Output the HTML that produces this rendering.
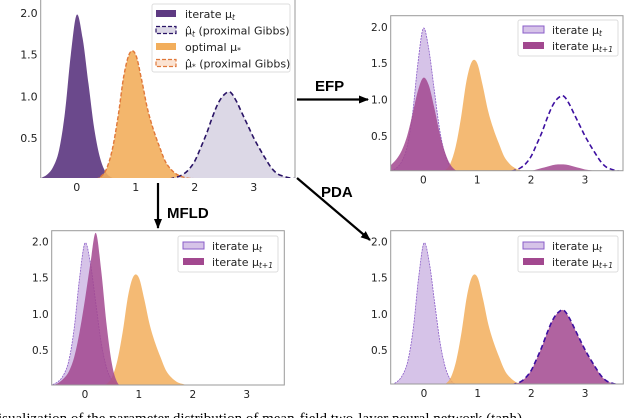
<!DOCTYPE html>
<html><head><meta charset="utf-8"><style>
body{margin:0;background:#fff;width:640px;height:418px;overflow:hidden}
svg{display:block;font-family:"DejaVu Sans","Liberation Sans",sans-serif}
</style></head><body>
<svg id="fig" width="640" height="418" viewBox="0 0 640 418" xmlns="http://www.w3.org/2000/svg">
<defs><marker id="ah" markerWidth="10" markerHeight="8" refX="9" refY="4" orient="auto" markerUnits="userSpaceOnUse"><path d="M0,0 L10,4 L0,8 Z" fill="#000"/></marker></defs>
<g id="arrows">
<line x1="297" y1="99.5" x2="368" y2="99.5" stroke="#000" stroke-width="2.2" marker-end="url(#ah)"/>
<text x="315" y="91" font-family="Liberation Sans, sans-serif" font-weight="bold" font-size="15">EFP</text>
<line x1="158" y1="183" x2="158" y2="228" stroke="#000" stroke-width="2.2" marker-end="url(#ah)"/>
<text x="167" y="218" font-family="Liberation Sans, sans-serif" font-weight="bold" font-size="15">MFLD</text>
<line x1="297" y1="178" x2="370" y2="240" stroke="#000" stroke-width="2.2" marker-end="url(#ah)"/>
<text x="321" y="197" font-family="Liberation Sans, sans-serif" font-weight="bold" font-size="15">PDA</text>
</g>
<text x="-2" y="423" font-family="Liberation Serif, serif" font-size="15">isualization of the parameter distribution of mean-field two-layer neural network (tanh)</text>
</svg>
<script>
const xs=[-0.6,-0.5,-0.4,-0.3,-0.2,-0.1,0,0.1,0.2,0.3,0.4,0.5,0.6,0.7,0.8,0.9,1.0,1.1,1.2,1.3,1.4,1.5,1.6,1.7,1.8,1.9,2.0,2.1,2.2,2.3,2.4,2.5,2.6,2.7,2.8,2.9,3.0,3.1,3.2,3.3,3.4,3.5,3.6,3.7];
const muT=[0.02,0.06,0.15,0.35,0.8,1.5,1.98,1.7,1.15,0.6,0.25,0.08,0.02,0,0,0,0,0,0,0,0,0,0,0,0,0,0,0,0,0,0,0,0,0,0,0,0,0,0,0,0,0,0,0];
const muStar=[0,0,0,0,0,0,0,0,0,0,0.03,0.12,0.35,0.75,1.25,1.52,1.5,1.2,0.85,0.6,0.4,0.22,0.12,0.06,0.03,0.015,0.01,0.005,0,0,0,0,0,0,0,0,0,0,0,0,0,0,0,0];
const hatMuT=[0,0,0,0,0,0,0,0,0,0,0,0,0,0,0,0,0,0,0,0,0,0,0.01,0.03,0.06,0.12,0.22,0.38,0.55,0.75,0.92,1.02,1.05,0.95,0.8,0.65,0.5,0.37,0.25,0.14,0.07,0.04,0.02,0.01];
const efpNext=[0.1,0.18,0.3,0.5,0.8,1.12,1.3,1.2,0.9,0.55,0.28,0.11,0.03,0,0,0,0,0,0,0,0,0,0,0,0,0.01,0.02,0.04,0.06,0.08,0.1,0.11,0.11,0.1,0.08,0.06,0.04,0.03,0.02,0.01,0.01,0,0,0];
const mfldNext=[0.01,0.04,0.1,0.2,0.4,0.75,1.2,1.7,2.12,1.6,0.85,0.3,0.05,0,0,0,0,0,0,0,0,0,0,0,0,0,0,0,0,0,0,0,0,0,0,0,0,0,0,0,0,0,0,0];
const xTicks=[0,1,2,3];
const yTicks=[0.5,1.0,1.5,2.0];
const yTickLabels=["0.5","1.0","1.5","2.0"];

const NS="http://www.w3.org/2000/svg";
const svg=document.getElementById('fig');
function mk(tag,attrs,parent){const e=document.createElementNS(NS,tag);for(const k in attrs)e.setAttribute(k,attrs[k]);(parent||svg).appendChild(e);return e;}
function smooth(pts){
 let d='';
 for(let i=0;i<pts.length-1;i++){
  const p0=pts[Math.max(0,i-1)],p1=pts[i],p2=pts[i+1],p3=pts[Math.min(pts.length-1,i+2)];
  const c1x=p1[0]+(p2[0]-p0[0])/6,c1y=p1[1]+(p2[1]-p0[1])/6;
  const c2x=p2[0]-(p3[0]-p1[0])/6,c2y=p2[1]-(p3[1]-p1[1])/6;
  d+=' C'+c1x.toFixed(1)+','+c1y.toFixed(1)+' '+c2x.toFixed(1)+','+c2y.toFixed(1)+' '+p2[0].toFixed(1)+','+p2[1].toFixed(1);
 }
 return d;
}

const panels=[
 {name:'panel-current',L:40.7,R:295,T:-2,B:178,x0:76.7,ux:59,y0:179.5,uy:83.2,fs:11,frame:'lr',
  series:[{d:muT,fill:'#5e3a82',op:0.92},{d:muStar,fill:'#f2ae5c',op:0.9},{d:hatMuT,fill:'#dcd8e6',op:1,stroke:'#2a1466',dash:'5,3',sw:1.6},{d:muStar,fill:'none',stroke:'#e0783a',dash:'4,2',sw:1.4}],
  legend:{x:152,y:4,w:138,h:68}},
 {name:'panel-efp',L:390.7,R:623,T:15.7,B:170.7,x0:423.3,ux:53.9,y0:172.4,uy:72.8,fs:10.5,frame:'all',
  series:[{d:muT,fill:'#d6c3e8',op:1,stroke:'#8a5cc8',dash:'2,1',sw:0.8},{d:muStar,fill:'#f2ae5c',op:0.85},{d:efpNext,fill:'#a2488f',op:0.85},{d:hatMuT,fill:'none',stroke:'#3d0fa0',dash:'5,3',sw:1.6}],
  legend2:{x:518,y:20}},
 {name:'panel-mfld',L:51.7,R:284.3,T:230.7,B:385,x0:85,ux:53.9,y0:386,uy:72.2,fs:10.5,frame:'all',
  series:[{d:muT,fill:'#d6c3e8',op:1,stroke:'#8a5cc8',dash:'2,1',sw:0.8},{d:muStar,fill:'#f2ae5c',op:0.85},{d:mfldNext,fill:'#a2488f',op:0.85}],
  legend2:{x:178,y:236}},
 {name:'panel-pda',L:390.7,R:623.3,T:230.7,B:384,x0:424,ux:53.7,y0:386,uy:72.2,fs:10.5,frame:'all',
  series:[{d:muT,fill:'#d6c3e8',op:1,stroke:'#8a5cc8',dash:'2,1',sw:0.8},{d:muStar,fill:'#f2ae5c',op:0.85},{d:hatMuT,fill:'#a2488f',op:0.85},{d:hatMuT,fill:'none',stroke:'#3d0fa0',dash:'5,3',sw:1.6}],
  legend2:{x:518,y:236}}
];
let clipId=0;
panels.forEach(p=>{
 const g=mk('g',{});
 
 
 const sx=v=>p.x0+v*p.ux, sy=v=>p.y0-v*p.uy;
 const cid='c'+(clipId++);
 const cp=mk('clipPath',{id:cid},g);mk('rect',{x:p.L,y:p.T,width:p.R-p.L,height:p.B-p.T},cp);
 const sg=mk('g',{'clip-path':'url(#'+cid+')'},g);
 p.series.forEach((s,i)=>{
  const pts=xs.map((x,j)=>[sx(x),sy(s.d[j])]);
  const line='M'+pts[0][0].toFixed(1)+','+pts[0][1].toFixed(1)+smooth(pts);
  if(s.fill!=='none'){
   const d='M'+sx(xs[0])+','+sy(0)+' L'+pts[0][0].toFixed(1)+','+pts[0][1].toFixed(1)+smooth(pts)+' L'+sx(xs[xs.length-1])+','+sy(0)+' Z';
   const a=mk('path',{d:d,fill:s.fill,'fill-opacity':s.op},sg);
   
   }
  if(s.stroke){const l=mk('path',{d:line,fill:'none',stroke:s.stroke,'stroke-width':s.sw,'stroke-dasharray':s.dash},sg);
   
   }
 });
 const st='#9a9a9a';
 if(p.frame==='all'){const f=mk('rect',{x:p.L,y:p.T,width:p.R-p.L,height:p.B-p.T,fill:'none',stroke:st,'stroke-width':1},g);
  
  }
 else{mk('line',{x1:p.L,y1:p.T,x2:p.L,y2:p.B,stroke:st},g);mk('line',{x1:p.R,y1:p.T,x2:p.R,y2:p.B,stroke:st},g);}
 xTicks.forEach(v=>{const t=mk('text',{x:sx(v),y:p.B+13,'text-anchor':'middle','font-size':p.fs,fill:'#222'},g);t.textContent=v;
  
  });
 yTicks.forEach((v,i)=>{const t=mk('text',{x:p.L-3,y:sy(v)+4,'text-anchor':'end','font-size':p.fs,fill:'#222'},g);t.textContent=yTickLabels[i];
  
  });
 if(p.legend){const L=p.legend;const lg=mk('g',{},g);
  
  
  mk('rect',{x:L.x,y:L.y,width:L.w,height:L.h,fill:'#fff','fill-opacity':0.85,stroke:'#ddd',rx:2},lg);
  const rows=[{lab:'iterate μ',sub:'t',rest:'',fill:'#5e3a82',st:null},{lab:'μ̂',sub:'t',rest:' (proximal Gibbs)',fill:'#dcd8e6',st:'#2a1466'},{lab:'optimal μ',sub:'*',rest:'',fill:'#f2ae5c',st:null},{lab:'μ̂',sub:'*',rest:' (proximal Gibbs)',fill:'#fbe3d2',st:'#e0783a'}];
  rows.forEach((r,i)=>{const y=L.y+10+i*16.5;
   const sw=mk('rect',{x:L.x+4,y:y-4,width:20,height:7,fill:r.fill},lg);if(r.st){sw.setAttribute('stroke',r.st);sw.setAttribute('stroke-width',1.2);sw.setAttribute('stroke-dasharray','4,2');}
   const t=mk('text',{x:L.x+33,y:y+4,'font-size':11,fill:'#222'},lg);
   
   
   t.innerHTML=r.lab+'<tspan font-size="7.5" dy="2" font-style="italic">'+r.sub+'</tspan><tspan dy="-2">'+r.rest+'</tspan>';});}
 if(p.legend2){const L=p.legend2;const lg=mk('g',{},g);
  
  
  mk('rect',{x:L.x,y:L.y,width:100,height:36,fill:'#fff','fill-opacity':0.85,stroke:'#ddd',rx:2},lg);
  [['t','#d6c3e8','#8a5cc8'],['t+1','#a2488f',null]].forEach((r,i)=>{const y=L.y+10+i*16;
   const sw=mk('rect',{x:L.x+5,y:y-4,width:21,height:7,fill:r[1]},lg);if(r[2]){sw.setAttribute('stroke',r[2]);}
   const t=mk('text',{x:L.x+34,y:y+4,'font-size':11,fill:'#222'},lg);
   
   
   t.innerHTML='iterate μ<tspan font-size="7.5" dy="2" font-style="italic">'+r[0]+'</tspan>';});}
});
</script>
</body></html>
